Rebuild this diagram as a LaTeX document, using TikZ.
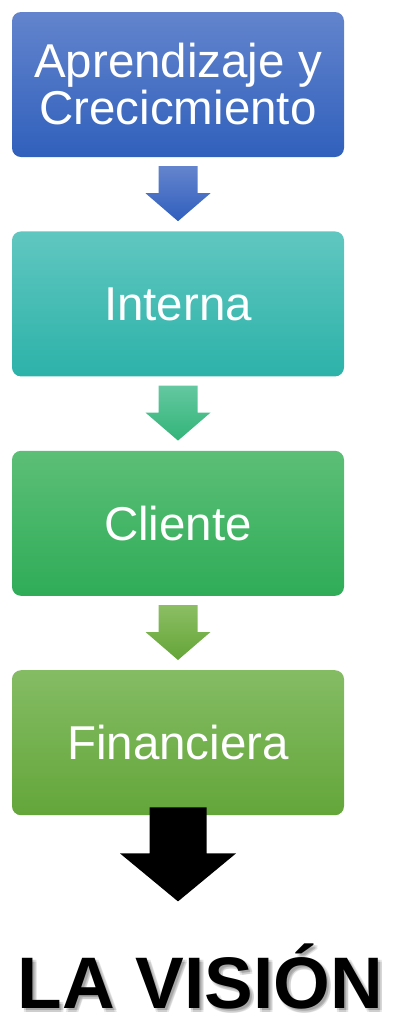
\documentclass[tikz,border=0pt]{standalone}
\usepackage{fontspec}
\setmainfont{Liberation Sans}
\usetikzlibrary{positioning, calc}
\definecolor{learntop}{RGB}{99, 132, 205}
\definecolor{learnbot}{RGB}{48, 96, 188}
\definecolor{interntop}{RGB}{96, 199, 192}
\definecolor{internbot}{RGB}{44, 178, 169}
\definecolor{clienttop}{RGB}{92, 191, 118}
\definecolor{clientbot}{RGB}{47, 172, 88}
\definecolor{financetop}{RGB}{132, 188, 100}
\definecolor{financebot}{RGB}{100, 166, 58}
\definecolor{arrowAtop}{RGB}{100, 132, 205}
\definecolor{arrowAbot}{RGB}{48, 95, 190}
\definecolor{arrowBtop}{RGB}{100, 200, 160}
\definecolor{arrowBbot}{RGB}{50, 180, 120}
\definecolor{arrowCtop}{RGB}{140, 190, 100}
\definecolor{arrowCbot}{RGB}{100, 165, 55}

\begin{document}
\begin{tikzpicture}[
    x=1pt, y=1pt,
    node distance=74pt,
    perspective/.style={rectangle, rounded corners=9pt, minimum width=332pt, minimum height=145pt, align=center, inner sep=0pt, text=white, font=\fontsize{47.5}{47}\selectfont},
    vision/.style={font=\fontsize{73}{73}\selectfont\bfseries, inner sep=0pt, anchor=base}
]

\useasboundingbox (0, 0) rectangle (393, -1013);

% === Perspectives ===
\node[perspective, top color=learntop, bottom color=learnbot] (learn) at (178, -84.5) {Aprendizaje y\\Crecicmiento};
\node[perspective, top color=interntop, bottom color=internbot, below=of learn] (intern) {Interna};
\node[perspective, top color=clienttop, bottom color=clientbot, below=of intern] (client) {Cliente};
\node[perspective, top color=financetop, bottom color=financebot, below=of client] (finance) {Financiera};

% === Block arrows between perspectives ===
\foreach \from/\to/\col in {learn/intern/arrowA, intern/client/arrowB, client/finance/arrowC}
    \path[top color=\col top, bottom color=\col bot]
        ([xshift=-19.5pt, yshift=-9pt]\from.south) -- ([xshift=19.5pt, yshift=-9pt]\from.south)
        -- ([xshift=19.5pt, yshift=-36pt]\from.south) -- ([xshift=32.5pt, yshift=-36pt]\from.south)
        -- ([yshift=10pt]\to.north)
        -- ([xshift=-32.5pt, yshift=-36pt]\from.south) -- ([xshift=-19.5pt, yshift=-36pt]\from.south)
        -- cycle;

% === Vision ===
\coordinate (tip) at ([yshift=-86pt]finance.south);
\foreach \dx in {2, 4}
    \foreach \dy in {2, 4}
        \node[vision, text=black, opacity=0.1] at (200.5+\dx, -1008-\dy) {LA VISIÓN};
\node[vision] (goal) at (200.5, -1008) {LA VISIÓN};

\fill[black] ([xshift=-28.5pt, yshift=8pt]finance.south) -- ([xshift=28.5pt, yshift=8pt]finance.south)
    -- ([xshift=28.5pt, yshift=-38pt]finance.south) -- ([xshift=58pt, yshift=-38pt]finance.south)
    -- (tip)
    -- ([xshift=-58pt, yshift=-38pt]finance.south) -- ([xshift=-28.5pt, yshift=-38pt]finance.south)
    -- cycle;

\end{tikzpicture}
\end{document}
